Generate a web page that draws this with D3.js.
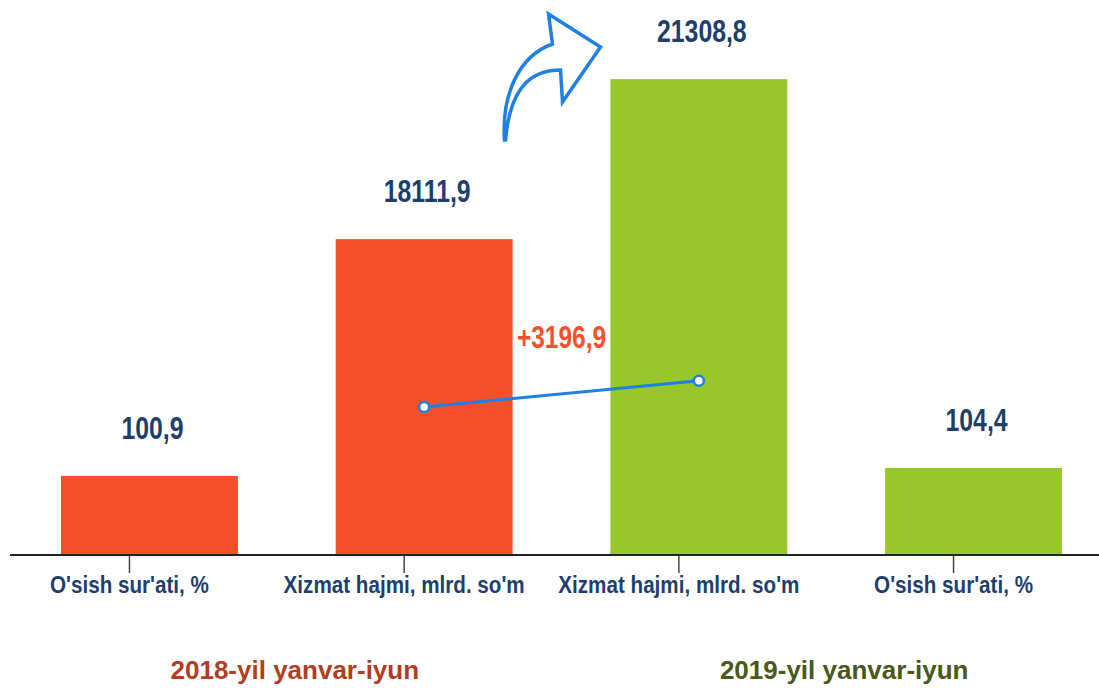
<!DOCTYPE html>
<html lang="uz">
<head>
    <meta charset="utf-8" />
    <title>Xizmat hajmi 2018-2019</title>
    <script src="https://cdn.jsdelivr.net/npm/d3@7"></script>
    <style>
        body { margin: 0; background: #fff; }
        text { font-family: "Liberation Sans", Arial, sans-serif; font-weight: bold; }
    </style>
</head>
<body>
    <div id="chart"></div>
    <script>
        // data
        const categories = ["O'sish sur'ati, %", "Xizmat hajmi, mlrd. so'm", "Xizmat hajmi, mlrd. so'm", "O'sish sur'ati, %"];
        const kinds = ['pct', 'vol', 'vol', 'pct'];
        const values = [100.9, 18111.9, 21308.8, 104.4];
        const valueLabels = ['100,9', '18111,9', '21308,8', '104,4'];
        const groups = ['2018-yil yanvar-iyun', '2019-yil yanvar-iyun'];
        const lineValues = [18111.9, 21308.8];
        const diffLabel = '+3196,9';

        const width = 1099, height = 691, baseY = 555;
        const barColors = ['#f5502c', '#f5502c', '#99c72b', '#99c72b'];
        const groupColors = ['#b23d22', '#4a5818'];
        const navy = '#1c3f6e', blue = '#1f80e3';
        const narrow = 0.8; // the original uses a condensed face; squeeze a regular one

        const svg = d3.select('#chart').append('svg')
            .attr('width', width)
            .attr('height', height);

        const x = d3.scaleBand()
            .domain(d3.range(categories.length))
            .range([61, 1062])
            .paddingInner(0.356)
            .paddingOuter(0);

        // the two bar kinds sit on their own (non-zero) axes, the line on a zero-based one
        const yPct = d3.scaleLinear().domain([66.3, 309.1]).range([baseY, 0]);
        const yVol = d3.scaleLinear().domain([11800, 22890]).range([baseY, 0]);
        const yLine = d3.scaleLinear().domain([0, 67900]).range([baseY, 0]);
        const yOf = (i) => kinds[i] === 'pct' ? yPct(values[i]) : yVol(values[i]);

        svg.selectAll('.bar')
            .data(values)
            .enter().append('rect')
            .attr('class', 'bar')
            .attr('x', (d, i) => x(i))
            .attr('y', (d, i) => yOf(i))
            .attr('width', x.bandwidth())
            .attr('height', (d, i) => baseY - yOf(i))
            .style('fill', (d, i) => barColors[i]);

        svg.selectAll('.val')
            .data(valueLabels)
            .enter().append('text')
            .attr('class', 'val')
            .attr('transform', (d, i) => 'translate(' + (x(i) + x.bandwidth() / 2 + 3) + ',' + (yOf(i) - 37) + ') scale(' + narrow + ',1)')
            .attr('text-anchor', 'middle')
            .style('font-size', '31px')
            .style('fill', navy)
            .text((d) => d);

        // baseline + category axis
        svg.append('line')
            .attr('x1', 10).attr('x2', width)
            .attr('y1', baseY).attr('y2', baseY)
            .style('stroke', '#222')
            .style('stroke-width', 2);

        const xAxis = svg.append('g')
            .attr('transform', 'translate(-20,' + (baseY + 1) + ')')
            .call(d3.axisBottom(x).tickSize(17).tickSizeOuter(0).tickFormat((i) => categories[i]));
        xAxis.select('.domain').remove();
        xAxis.selectAll('.tick line').style('stroke', '#444').style('stroke-width', 1.5);
        xAxis.selectAll('.tick text')
            .attr('y', 37)
            .attr('dy', 0)
            .attr('transform', 'scale(0.86,1)')
            .style('font-family', '"Liberation Sans", Arial, sans-serif')
            .style('font-size', '24px')
            .style('font-weight', 'bold')
            .style('fill', navy);

        // group captions
        svg.selectAll('.grp')
            .data(groups)
            .enter().append('text')
            .attr('class', 'grp')
            .attr('x', (d, g) => (x(g * 2) + x(g * 2 + 1) + x.bandwidth()) / 2 + 8)
            .attr('y', 679)
            .attr('text-anchor', 'middle')
            .style('font-size', '26px')
            .style('fill', (d, g) => groupColors[g])
            .text((d) => d);

        // connector line between the two volume bars
        const linePts = lineValues.map((v, j) => [x(j + 1) + x.bandwidth() / 2, yLine(v)]);
        svg.append('path')
            .datum(linePts)
            .attr('d', d3.line())
            .style('fill', 'none')
            .style('stroke', blue)
            .style('stroke-width', 3);
        svg.selectAll('.dot')
            .data(linePts)
            .enter().append('circle')
            .attr('cx', (d) => d[0])
            .attr('cy', (d) => d[1])
            .attr('r', 5)
            .style('fill', '#fff')
            .style('stroke', blue)
            .style('stroke-width', 2.5);

        const gapX = (x(1) + x.bandwidth() + x(2)) / 2;
        svg.append('text')
            .attr('transform', 'translate(' + gapX + ',' + (d3.mean(linePts, (d) => d[1]) - 46) + ') scale(0.79,1)')
            .attr('text-anchor', 'middle')
            .style('font-size', '31px')
            .style('fill', '#f5502c')
            .text(diffLabel);

        // curved "growth" arrow above the gap
        svg.append('path')
            .attr('transform', 'translate(' + (gapX - 561) + ',0)')
            .attr('d', 'M504,140 C501,95 518,56 552,44 L548,14 L600,47 L562,102 L560,70 C535,70 510,82 505,140 Z')
            .style('fill', '#fff')
            .style('stroke', blue)
            .style('stroke-width', 3.5)
            .style('stroke-linejoin', 'miter');
    </script>
</body>
</html>
